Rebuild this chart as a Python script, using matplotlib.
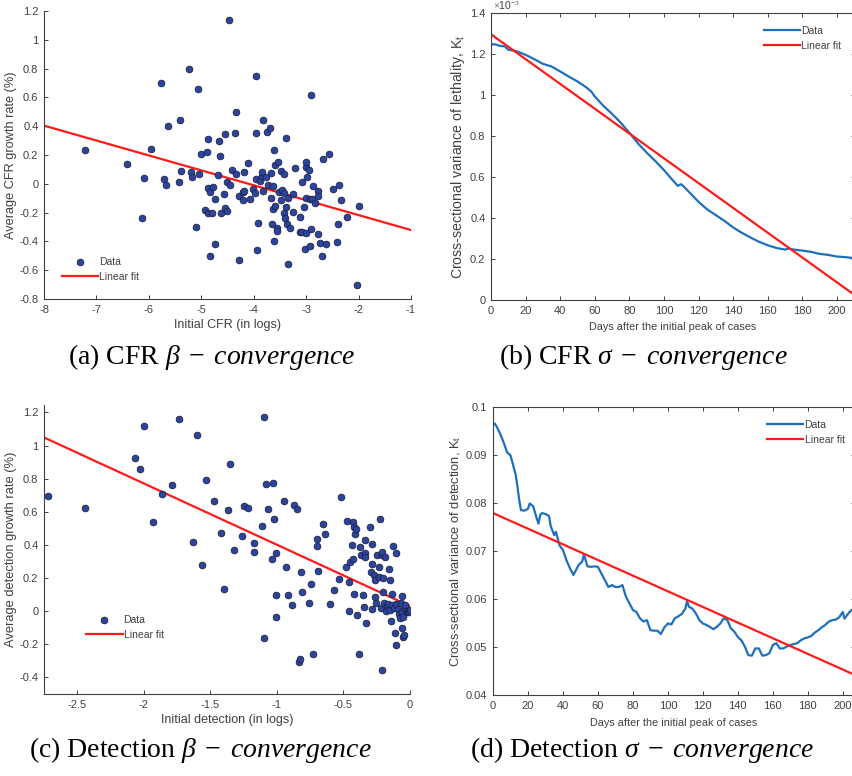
import matplotlib
matplotlib.use('Agg')
from matplotlib import pyplot as plt
from matplotlib.ticker import FuncFormatter, MultipleLocator

# (a) CFR beta-convergence: initial CFR (logs) vs average CFR growth rate (%)
cfr_x = [-7.22, -6.42, -6.09, -6.14, -5.95, -5.77, -5.72, -5.67, -5.63, -5.43,
         -5.41, -5.38, -5.24, -5.19, -5.17, -5.11, -5.06, -5.05, -5.00, -4.93,
         -4.89, -4.87, -4.87, -4.87, -4.84, -4.84, -4.79, -4.78, -4.73, -4.73,
         -4.68, -4.67, -4.64, -4.63, -4.56, -4.55, -4.54, -4.50, -4.50, -4.48,
         -4.45, -4.41, -4.35, -4.33, -4.33, -4.29, -4.28, -4.21, -4.20, -4.19,
         -4.18, -4.10, -4.08, -4.01, -3.98, -3.96, -3.96, -3.95, -3.94, -3.92,
         -3.88, -3.84, -3.84, -3.83, -3.82, -3.77, -3.74, -3.72, -3.68, -3.67,
         -3.67, -3.66, -3.64, -3.63, -3.61, -3.61, -3.60, -3.60, -3.56, -3.55,
         -3.53, -3.51, -3.48, -3.48, -3.46, -3.43, -3.42, -3.42, -3.40, -3.39,
         -3.39, -3.36, -3.35, -3.34, -3.30, -3.26, -3.26, -3.22, -3.12, -3.12,
         -3.08, -3.07, -3.05, -3.03, -3.00, -3.00, -3.00, -3.00, -2.99, -2.95,
         -2.93, -2.93, -2.91, -2.91, -2.88, -2.86, -2.84, -2.78, -2.77, -2.77,
         -2.73, -2.70, -2.68, -2.63, -2.56, -2.49, -2.41, -2.39, -2.37, -2.34,
         -2.22, -2.03, -2.00]
cfr_y = [0.235, 0.135, 0.04, -0.24, 0.24, 0.70, 0.03, -0.01, 0.40, 0.015,
         0.44, 0.09, 0.80, 0.08, 0.05, -0.30, 0.656, 0.07, 0.205, -0.18,
         0.22, 0.31, -0.03, -0.20, -0.06, -0.50, -0.20, -0.02, -0.105, -0.42,
         0.06, 0.30, 0.19, -0.205, -0.07, -0.17, 0.345, -0.19, 0.015, 1.135,
         -0.01, 0.093, 0.35, 0.50, 0.07, -0.53, -0.087, -0.11, -0.06, 0.084,
         -0.05, 0.147, -0.105, -0.035, -0.066, 0.75, 0.35, 0.03, -0.46, -0.27,
         0.017, 0.056, 0.082, -0.05, 0.44, 0.048, 0.36, -0.008, 0.39, -0.10,
         0.073, -0.28, -0.018, -0.177, -0.395, 0.235, -0.152, 0.128, -0.31, -0.325,
         0.154, -0.055, 0.089, -0.115, -0.04, -0.064, 0.07, -0.20, -0.24, 0.32,
         -0.16, -0.28, -0.555, -0.10, -0.31, -0.07, -0.195, 0.112, -0.233, -0.337,
         0.013, -0.337, -0.163, -0.455, 0.117, 0.15, -0.096, -0.344, 0.05, 0.096,
         -0.43, -0.105, 0.62, -0.314, -0.108, -0.015, -0.136, -0.05, -0.083, -0.346,
         -0.41, -0.50, 0.17, -0.416, 0.21, -0.036, -0.406, -0.28, -0.008, -0.11,
         -0.23, -0.70, -0.157]
cfr_fit_x = [-8, -1]
cfr_fit_y = [0.404, -0.321]

# (b) CFR sigma-convergence: cross-sectional variance of lethality
days_b = [0, 2, 5, 8, 10, 15, 20, 25, 30, 35, 40, 45, 50, 55, 58, 60, 65, 70,
          75, 80, 85, 90, 95, 100, 105, 108, 110, 112, 115, 120, 125, 130, 135,
          140, 145, 150, 155, 160, 165, 170, 172, 175, 180, 185, 190, 195, 200,
          205, 209]
var_leth = [1.245, 1.248, 1.240, 1.237, 1.221, 1.213, 1.196, 1.175, 1.152,
            1.139, 1.115, 1.090, 1.066, 1.038, 1.017, 0.993, 0.947, 0.908,
            0.865, 0.816, 0.764, 0.719, 0.678, 0.634, 0.585, 0.557, 0.565,
            0.549, 0.523, 0.479, 0.442, 0.414, 0.386, 0.354, 0.328, 0.305,
            0.284, 0.267, 0.254, 0.246, 0.251, 0.246, 0.241, 0.235, 0.225,
            0.220, 0.212, 0.209, 0.205]
var_leth = [v * 1e-3 for v in var_leth]
leth_fit_x = [0, 210]
leth_fit_y = [1.296e-3, 0.026e-3]

# (c) Detection beta-convergence
det_x = [-2.72, -2.44, -2.07, -2.03, -2.00, -1.93, -1.86, -1.79, -1.735, -1.63,
         -1.60, -1.56, -1.53, -1.47, -1.42, -1.40, -1.37, -1.35, -1.32, -1.26,
         -1.25, -1.22, -1.17, -1.17, -1.11, -1.10, -1.10, -1.08, -1.07, -1.035,
         -1.03, -1.02, -1.01, -1.005, -1.005, -0.95, -0.93, -0.915, -0.885, -0.87,
         -0.85, -0.835, -0.825, -0.82, -0.81, -0.757, -0.745, -0.727, -0.70, -0.70,
         -0.69, -0.65, -0.64, -0.60, -0.57, -0.53, -0.52, -0.48, -0.47, -0.46,
         -0.456, -0.45, -0.436, -0.426, -0.426, -0.42, -0.42, -0.41, -0.404, -0.396,
         -0.38, -0.374, -0.366, -0.354, -0.346, -0.34, -0.338, -0.336, -0.333, -0.30,
         -0.296, -0.288, -0.286, -0.283, -0.273, -0.263, -0.263, -0.258, -0.246, -0.236,
         -0.23, -0.226, -0.22, -0.21, -0.208, -0.208, -0.203, -0.20, -0.196, -0.188,
         -0.183, -0.176, -0.168, -0.16, -0.153, -0.148, -0.145, -0.138, -0.135, -0.125,
         -0.118, -0.113, -0.108, -0.108, -0.103, -0.093, -0.085, -0.078, -0.068, -0.063,
         -0.06, -0.058, -0.055, -0.053, -0.048, -0.04, -0.035, -0.025, -0.015, -0.008,
         0.0]
det_y = [0.698, 0.626, 0.925, 0.859, 1.12, 0.54, 0.708, 0.762, 1.16, 0.417,
         1.064, 0.276, 0.794, 0.668, 0.473, 0.136, 0.612, 0.891, 0.367, 0.457,
         0.638, 0.622, 0.413, 0.357, 0.513, -0.163, 1.17, 0.768, 0.618, 0.317,
         0.772, 0.556, 0.353, 0.10, -0.033, 0.668, 0.266, 0.10, 0.04, 0.644,
         0.62, -0.306, -0.29, 0.234, 0.116, 0.05, 0.162, -0.256, 0.393, 0.437,
         0.244, 0.525, 0.469, 0.046, 0.126, 0.196, 0.688, 0.264, 0.545, 0.0,
         0.178, 0.30, 0.399, 0.54, 0.313, 0.509, 0.106, 0.469, 0.499, -0.025,
         -0.256, 0.389, 0.339, 0.096, 0.024, 0.427, 0.349, 0.327, -0.073, 0.507,
         0.236, 0.011, 0.403, 0.285, 0.22, 0.088, 0.188, 0.048, 0.341, 0.208,
         0.266, 0.556, 0.019, 0.341, -0.358, 0.357, 0.116, 0.202, 0.05, 0.329,
         0.0, 0.032, 0.042, 0.252, 0.188, 0.007, -0.061, 0.102, 0.04, 0.391,
         0.021, -0.131, 0.351, -0.205, 0.046, 0.016, -0.017, -0.041, 0.052, 0.09,
         -0.103, -0.004, -0.153, -0.037, -0.141, 0.021, 0.036, -0.004, 0.0, -0.005,
         0.005]
det_fit_x = [-2.75, 0]
det_fit_y = [1.049, 0.031]

# (d) Detection sigma-convergence
days_d = [1, 2, 4, 6, 8, 10, 11, 13, 14, 15, 16, 18, 20, 21, 23, 25, 26, 27,
          28, 30, 32, 33, 35, 36, 38, 40, 42, 44, 46, 47, 49, 51, 52, 54, 56,
          58, 60, 62, 64, 66, 68, 70, 72, 74, 76, 78, 80, 82, 84, 86, 88, 90,
          92, 94, 96, 98, 100, 102, 104, 106, 108, 110, 111, 112, 114, 116, 118,
          120, 122, 124, 126, 128, 130, 132, 134, 136, 138, 140, 142, 144, 146,
          148, 150, 152, 154, 156, 158, 160, 162, 164, 166, 168, 170, 172, 174,
          176, 178, 180, 182, 184, 186, 188, 190, 192, 194, 196, 198, 200, 201,
          203, 205, 207]
var_det = [0.0965, 0.0960, 0.0945, 0.0927, 0.0906, 0.0899, 0.0886, 0.0858,
           0.0834, 0.0806, 0.0785, 0.0784, 0.0788, 0.0799, 0.0793, 0.0768,
           0.0757, 0.0775, 0.0779, 0.0777, 0.0773, 0.0752, 0.0733, 0.0740,
           0.0712, 0.0702, 0.0681, 0.0664, 0.0650, 0.0657, 0.0671, 0.0678,
           0.0693, 0.0668, 0.0667, 0.0668, 0.0667, 0.0653, 0.0639, 0.0625,
           0.0629, 0.0625, 0.0625, 0.0629, 0.0605, 0.0591, 0.0577, 0.0573,
           0.0560, 0.0553, 0.0556, 0.0535, 0.0534, 0.0534, 0.0527, 0.0541,
           0.0549, 0.0547, 0.0560, 0.0564, 0.0569, 0.0580, 0.0596, 0.0584,
           0.0580, 0.0570, 0.0556, 0.0549, 0.0546, 0.0542, 0.0537, 0.0542,
           0.0549, 0.0560, 0.0556, 0.0539, 0.0532, 0.0521, 0.0514, 0.0501,
           0.0483, 0.0482, 0.0497, 0.0497, 0.0482, 0.0483, 0.0487, 0.0504,
           0.0508, 0.0497, 0.0497, 0.0501, 0.0504, 0.0506, 0.0508, 0.0514,
           0.0518, 0.0520, 0.0523, 0.0530, 0.0535, 0.0541, 0.0546, 0.0553,
           0.0556, 0.0557, 0.0562, 0.0573, 0.0559, 0.0569, 0.0577, 0.0580]
det_fit_dx = [0, 208]
det_fit_dy = [0.0779, 0.0440]

plt.rcParams['font.family'] = ['Liberation Sans', 'DejaVu Sans']
plt.rcParams['mathtext.fontset'] = 'custom'
plt.rcParams['mathtext.rm'] = 'Liberation Serif'
plt.rcParams['mathtext.it'] = 'Liberation Serif:italic'
plt.rcParams['mathtext.sf'] = 'Liberation Sans'

GRAY = '#404040'
DOT = '#2b44a0'
BLUE = '#1f6fbf'
RED = '#ff1a1a'
W, H = 853, 776

fig = plt.figure(figsize=(W / 100, H / 100), dpi=100)


def add_ax(left, top, right, bottom):
    return fig.add_axes([left / W, 1 - bottom / H, (right - left) / W, (bottom - top) / H])


def style(ax, box):
    fmt = FuncFormatter(lambda v, p: f'{v:g}')
    ax.xaxis.set_major_formatter(fmt)
    ax.yaxis.set_major_formatter(fmt)
    for s in ax.spines.values():
        s.set_color(GRAY)
        s.set_linewidth(0.8)
    if not box:
        ax.spines['top'].set_visible(False)
        ax.spines['right'].set_visible(False)
    ax.tick_params(direction='in', length=3, width=0.7, colors=GRAY,
                   labelsize=8, top=box, right=box, pad=4)


def legend(ax, x, y):
    ax.legend(frameon=False, loc='upper left', bbox_to_anchor=(x, y), borderpad=0,
              borderaxespad=0, fontsize=7.5, handlelength=3.5, handletextpad=0.1,
              labelspacing=0.45, labelcolor=GRAY)


# (a)
ax = add_ax(44, 11, 411, 299)
ax.scatter(cfr_x, cfr_y, s=24, c=DOT, edgecolors='#1a1a2e', linewidths=0.5, label='Data', zorder=3)
ax.plot(cfr_fit_x, cfr_fit_y, color=RED, lw=1.6, label='Linear fit', zorder=2)
ax.set_xlim(-8, -1)
ax.set_ylim(-0.8, 1.2)
ax.yaxis.set_major_locator(MultipleLocator(0.2))
style(ax, False)
ax.set_xlabel('Initial CFR (in logs)', fontsize=9, color=GRAY, labelpad=3)
ax.set_ylabel('Average CFR growth rate (%)', fontsize=9.2, color=GRAY, labelpad=2)
legend(ax, 0.049, 0.146)

# (b)
ax = add_ax(491, 13, 855, 300)
ax.plot(days_b, var_leth, color=BLUE, lw=1.6, label='Data')
ax.plot(leth_fit_x, leth_fit_y, color=RED, lw=1.6, label='Linear fit')
ax.set_xlim(0, 210.5)
ax.set_ylim(0, 1.4e-3)
ax.xaxis.set_major_locator(MultipleLocator(20))
ax.yaxis.set_major_locator(MultipleLocator(0.2e-3))
style(ax, True)
ax.yaxis.set_major_formatter(FuncFormatter(lambda v, p: f'{v * 1e3:g}'))
ax.text(0.005, 1.003, r'$\times$10$^{-3}$', transform=ax.transAxes, fontsize=7.5,
        color=GRAY, va='bottom', ha='left')
ax.set_xlabel('Days after the initial peak of cases', fontsize=7.8, color=GRAY, labelpad=5)
ax.set_ylabel(r'Cross-sectional variance of lethality, K$_{\mathsf{t}}$', fontsize=10.2,
              color=GRAY, labelpad=2)
legend(ax, 0.75, 0.955)

# (c)
ax = add_ax(44, 405, 410, 694)
ax.scatter(det_x, det_y, s=24, c=DOT, edgecolors='#1a1a2e', linewidths=0.5, label='Data', zorder=3)
ax.plot(det_fit_x, det_fit_y, color=RED, lw=1.6, label='Linear fit', zorder=2)
ax.set_xlim(-2.75, 0)
ax.set_ylim(-0.5, 1.245)
ax.xaxis.set_major_locator(MultipleLocator(0.5))
ax.yaxis.set_major_locator(MultipleLocator(0.2))
style(ax, False)
ax.set_xlabel('Initial detection (in logs)', fontsize=9, color=GRAY, labelpad=3)
ax.set_ylabel('Average detection growth rate (%)', fontsize=9.3, color=GRAY, labelpad=2)
legend(ax, 0.115, 0.273)

# (d)
ax = add_ax(493, 407, 855, 695)
ax.plot(days_d, var_det, color=BLUE, lw=1.6, label='Data')
ax.plot(det_fit_dx, det_fit_dy, color=RED, lw=1.6, label='Linear fit')
ax.set_xlim(0, 207)
ax.set_ylim(0.04, 0.1)
ax.xaxis.set_major_locator(MultipleLocator(20))
ax.yaxis.set_major_locator(MultipleLocator(0.01))
style(ax, True)
ax.set_xlabel('Days after the initial peak of cases', fontsize=7.8, color=GRAY, labelpad=5)
ax.set_ylabel(r'Cross-sectional variance of detection, K$_{\mathsf{t}}$', fontsize=9.3,
              color=GRAY, labelpad=2)
legend(ax, 0.757, 0.955)

# captions
cap = dict(fontsize=20, family='Liberation Serif', ha='center', va='center', color='black')
fig.text(212 / W, 1 - 357 / H, r'(a) CFR $\beta\;-\;convergence$', **cap)
fig.text(643 / W, 1 - 357 / H, r'(b) CFR $\sigma\;-\;convergence$', **cap)
fig.text(200 / W, 1 - 750 / H, r'(c) Detection $\beta\;-\;convergence$', **cap)
fig.text(642 / W, 1 - 750 / H, r'(d) Detection $\sigma\;-\;convergence$', **cap)

fig.savefig('out.png', dpi=100)
